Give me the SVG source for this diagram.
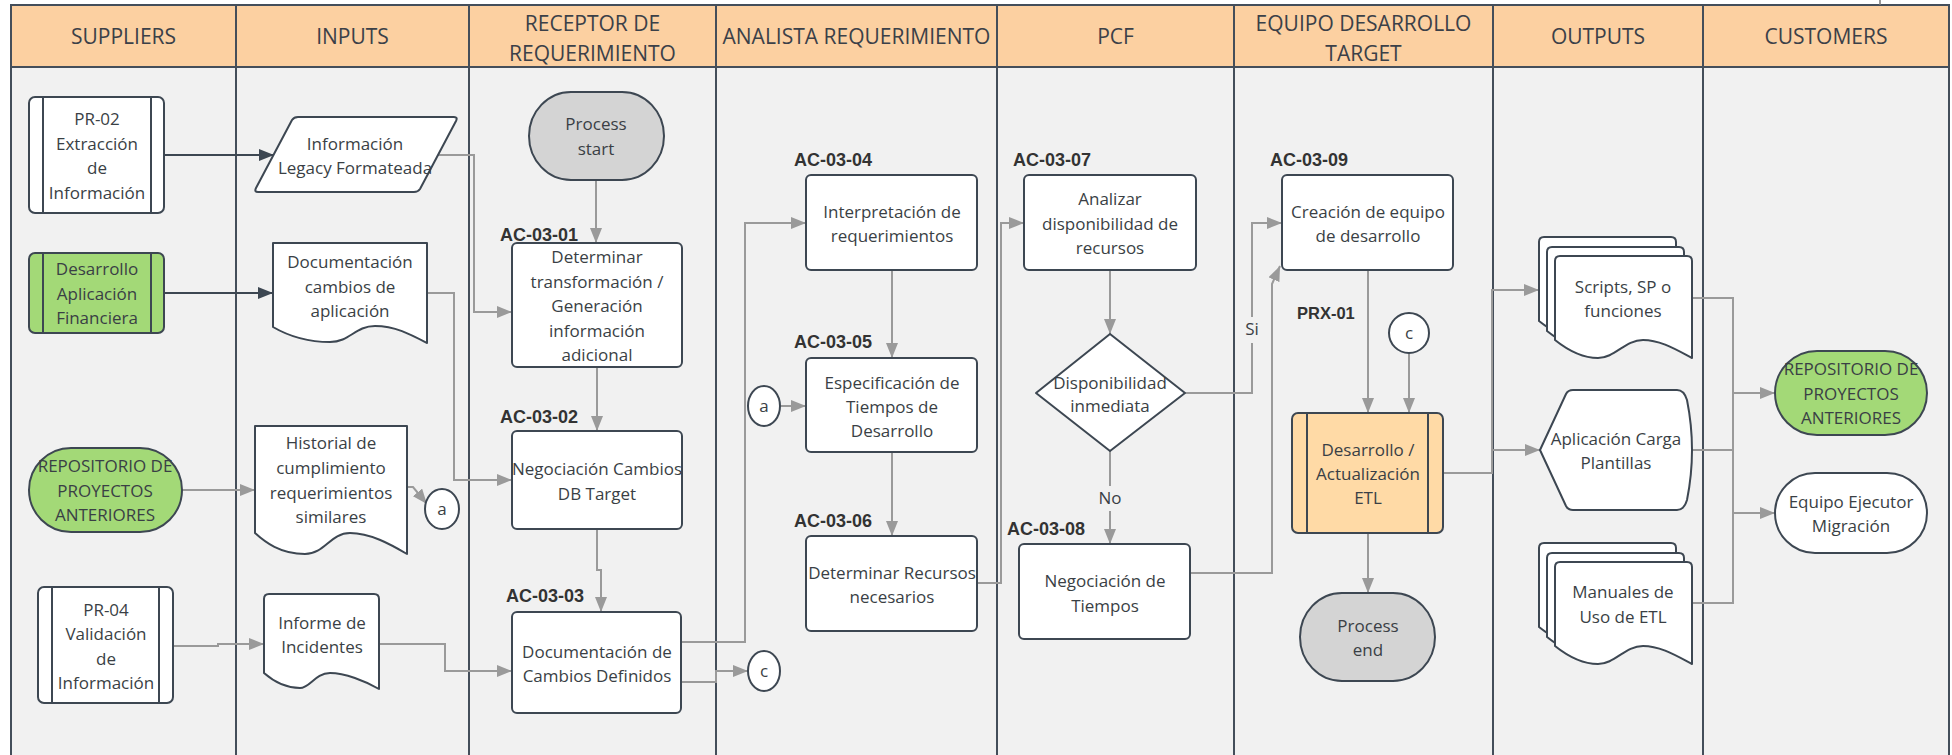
<svg xmlns="http://www.w3.org/2000/svg" width="1952" height="755" viewBox="0 0 1952 755">
<style>
.lh{fill:#FCD0A1;stroke:#444e5a;stroke-width:2}
.lb{fill:#F1F1F1;stroke:#444e5a;stroke-width:2}
.hdr{font-family:"Open Sans",sans-serif;font-size:21px;fill:#3b4048;text-anchor:middle}
.n{fill:#fff;stroke:#3d4752;stroke-width:2;stroke-linejoin:round}
.g{fill:#A3D977}
.gr{fill:#D4D4D4}
.o{fill:#FFDAA6}
.t{font-family:"Open Sans",sans-serif;font-size:17px;fill:#3a3f45;text-anchor:middle}
.lbl{font-family:"Liberation Sans",Arial,sans-serif;font-weight:bold;font-size:18px;fill:#333}
.c{fill:none;stroke:#9a9a9a;stroke-width:2}
.cd{fill:none;stroke:#3d4752;stroke-width:2}
.bg{fill:#F1F1F1}
</style>
<defs>
<marker id="ag" markerUnits="userSpaceOnUse" markerWidth="16" markerHeight="12" refX="15" refY="6" orient="auto"><path d="M0,0 L15,6 L0,12 z" fill="#9a9a9a"/></marker>
<marker id="ad" markerUnits="userSpaceOnUse" markerWidth="16" markerHeight="12" refX="15" refY="6" orient="auto"><path d="M0,0 L15,6 L0,12 z" fill="#3d4752"/></marker>
<path id="sd" d="M0,84 V5 Q0,0 5,0 H132 Q137,0 137,5 V102 C120,93 105,84 88,84 C70,84 60,102 43,102 C25,102 10,92 0,84 Z"/>
</defs>

<g id="lanes">
<rect class="lb" x="11" y="67" width="225" height="700"/>
<rect class="lb" x="236" y="67" width="233" height="700"/>
<rect class="lb" x="469" y="67" width="247" height="700"/>
<rect class="lb" x="716" y="67" width="281" height="700"/>
<rect class="lb" x="997" y="67" width="237" height="700"/>
<rect class="lb" x="1234" y="67" width="259" height="700"/>
<rect class="lb" x="1493" y="67" width="210" height="700"/>
<rect class="lb" x="1703" y="67" width="246" height="700"/>
<rect class="lh" x="11" y="5" width="225" height="62"/>
<rect class="lh" x="236" y="5" width="233" height="62"/>
<rect class="lh" x="469" y="5" width="247" height="62"/>
<rect class="lh" x="716" y="5" width="281" height="62"/>
<rect class="lh" x="997" y="5" width="237" height="62"/>
<rect class="lh" x="1234" y="5" width="259" height="62"/>
<rect class="lh" x="1493" y="5" width="210" height="62"/>
<rect class="lh" x="1703" y="5" width="246" height="62"/>
<path d="M1880,0 V5" stroke="#777" stroke-width="1.5"/>
<text class="hdr" x="123.5" y="44">SUPPLIERS</text>
<text class="hdr" x="352.5" y="44">INPUTS</text>
<text class="hdr" x="592.5" y="31">RECEPTOR DE</text>
<text class="hdr" x="592.5" y="61">REQUERIMIENTO</text>
<text class="hdr" x="856.5" y="44">ANALISTA REQUERIMIENTO</text>
<text class="hdr" x="1115.5" y="44">PCF</text>
<text class="hdr" x="1363.5" y="31">EQUIPO DESARROLLO</text>
<text class="hdr" x="1363.5" y="61">TARGET</text>
<text class="hdr" x="1598" y="44">OUTPUTS</text>
<text class="hdr" x="1826" y="44">CUSTOMERS</text>
</g>

<g id="connectors">
<path class="cd" d="M164,155 H274" marker-end="url(#ad)"/>
<path class="cd" d="M164,293 H273" marker-end="url(#ad)"/>
<path class="c" d="M182,490 H255" marker-end="url(#ag)"/>
<path class="c" d="M173,646 H218 V644 H264" marker-end="url(#ag)"/>
<path class="c" d="M437,155 H474 V312 H512" marker-end="url(#ag)"/>
<path class="c" d="M427,293 H454 V480 H512" marker-end="url(#ag)"/>
<path class="c" d="M407,487 H413 L427,504" marker-end="url(#ag)"/>
<path class="c" d="M379,644 H445 V671 H512" marker-end="url(#ag)"/>
<path class="c" d="M596,180 V243" marker-end="url(#ag)"/>
<path class="c" d="M597,367 V431" marker-end="url(#ag)"/>
<path class="c" d="M597,529 V570 H601 V612" marker-end="url(#ag)"/>
<path class="c" d="M681,642 H745 V223 H806" marker-end="url(#ag)"/>
<path class="c" d="M681,682 H716 V671 H748" marker-end="url(#ag)"/>
<path class="c" d="M781,406 H806" marker-end="url(#ag)"/>
<path class="c" d="M892,270 V358" marker-end="url(#ag)"/>
<path class="c" d="M892,452 V536" marker-end="url(#ag)"/>
<path class="c" d="M977,583 H1001 V223 H1024" marker-end="url(#ag)"/>
<path class="c" d="M1110,270 V334" marker-end="url(#ag)"/>
<path class="c" d="M1185,393 H1252 V223 H1282" marker-end="url(#ag)"/>
<path class="c" d="M1110,451 V544" marker-end="url(#ag)"/>
<path class="c" d="M1190,573 H1272 V284 L1280,266" marker-end="url(#ag)"/>
<path class="c" d="M1368,270 V413" marker-end="url(#ag)"/>
<path class="c" d="M1409,353 V413" marker-end="url(#ag)"/>
<path class="c" d="M1368,533 V593" marker-end="url(#ag)"/>
<path class="c" d="M1443,473 H1492 V290 H1539" marker-end="url(#ag)"/>
<path class="c" d="M1492,450 H1540" marker-end="url(#ag)"/>
<path class="c" d="M1692,298 H1733 V603 H1692"/>
<path class="c" d="M1692,450 H1733"/>
<path class="c" d="M1733,393 H1775" marker-end="url(#ag)"/>
<path class="c" d="M1733,513 H1775" marker-end="url(#ag)"/>
<rect class="bg" x="1243" y="317" width="18" height="26"/>
<text class="t" x="1252" y="335">Si</text>
<rect class="bg" x="1096" y="486" width="28" height="25"/>
<text class="t" x="1110" y="504">No</text>
</g>

<g id="pr02">
<rect class="n" x="29" y="97" width="135" height="116" rx="6"/>
<path class="n" d="M43,97 V213 M151,97 V213"/>
<text class="t" x="97"><tspan x="97" y="125">PR-02</tspan><tspan x="97" y="150">Extracción</tspan><tspan x="97" y="174">de</tspan><tspan x="97" y="199">Información</tspan></text>
</g>
<g id="desarrollo-app">
<rect class="n g" x="29" y="253" width="135" height="80" rx="6"/>
<path class="n" d="M43,253 V333 M151,253 V333"/>
<text class="t" x="97"><tspan x="97" y="275">Desarrollo</tspan><tspan x="97" y="300">Aplicación</tspan><tspan x="97" y="324">Financiera</tspan></text>
</g>
<g id="repositorio-sup">
<rect class="n g" x="29" y="448" width="153" height="84" rx="42"/>
<text class="t" x="105"><tspan x="105" y="472">REPOSITORIO DE</tspan><tspan x="105" y="497">PROYECTOS</tspan><tspan x="105" y="521">ANTERIORES</tspan></text>
</g>
<g id="pr04">
<rect class="n" x="38" y="587" width="135" height="116" rx="6"/>
<path class="n" d="M52,587 V703 M159,587 V703"/>
<text class="t" x="106"><tspan x="106" y="616">PR-04</tspan><tspan x="106" y="640">Validación</tspan><tspan x="106" y="665">de</tspan><tspan x="106" y="689">Información</tspan></text>
</g>

<g id="info-legacy">
<path class="n" d="M298,117 H454 Q458,117 456,121 L420,189 Q418,192 414,192 H258 Q254,192 256,188 L292,120 Q294,117 298,117 Z"/>
<text class="t" x="355"><tspan x="355" y="150">Información</tspan><tspan x="355" y="174">Legacy Formateada</tspan></text>
</g>
<g id="doc-cambios">
<path class="n" d="M273,243 H427 V343 C410,334 395,326 375,326 C355,326 350,342 330,342 C305,342 285,334 273,327 Z"/>
<text class="t" x="350"><tspan x="350" y="268">Documentación</tspan><tspan x="350" y="293">cambios de</tspan><tspan x="350" y="317">aplicación</tspan></text>
</g>
<g id="historial">
<path class="n" d="M255,426 H407 V554 C390,544 370,533 350,533 C330,533 325,554 305,554 C280,554 265,542 255,533 Z"/>
<text class="t" x="331"><tspan x="331" y="449">Historial de</tspan><tspan x="331" y="474">cumplimiento</tspan><tspan x="331" y="499">requerimientos</tspan><tspan x="331" y="523">similares</tspan></text>
</g>
<g id="con-a1">
<ellipse class="n" cx="442" cy="509" rx="17" ry="20"/>
<text class="t" x="442" y="515">a</text>
</g>
<g id="informe">
<path class="n" d="M264,673 V599 Q264,594 269,594 H374 Q379,594 379,599 V689 C365,681 345,673 330,673 C315,673 310,688 300,688 C285,688 272,680 264,673 Z"/>
<text class="t" x="322"><tspan x="322" y="629">Informe de</tspan><tspan x="322" y="653">Incidentes</tspan></text>
</g>

<g id="process-start">
<rect class="n gr" x="529" y="92" width="135" height="88" rx="42" ry="44"/>
<text class="t" x="596"><tspan x="596" y="130">Process</tspan><tspan x="596" y="155">start</tspan></text>
</g>
<g id="ac-03-01">
<text class="lbl" x="500" y="241">AC-03-01</text>
<rect class="n" x="512" y="243" width="170" height="124" rx="5"/>
<text class="t" x="597"><tspan x="597" y="263">Determinar</tspan><tspan x="597" y="288">transformación /</tspan><tspan x="597" y="312">Generación</tspan><tspan x="597" y="337">información</tspan><tspan x="597" y="361">adicional</tspan></text>
</g>
<g id="ac-03-02">
<text class="lbl" x="500" y="423">AC-03-02</text>
<rect class="n" x="512" y="431" width="170" height="98" rx="5"/>
<text class="t" x="597"><tspan x="597" y="475">Negociación Cambios</tspan><tspan x="597" y="500">DB Target</tspan></text>
</g>
<g id="ac-03-03">
<text class="lbl" x="506" y="602">AC-03-03</text>
<rect class="n" x="512" y="612" width="169" height="101" rx="5"/>
<text class="t" x="597"><tspan x="597" y="658">Documentación de</tspan><tspan x="597" y="682">Cambios Definidos</tspan></text>
</g>
<g id="con-c1">
<ellipse class="n" cx="764" cy="671" rx="16" ry="20"/>
<text class="t" x="764" y="677">c</text>
</g>

<g id="ac-03-04">
<text class="lbl" x="794" y="166">AC-03-04</text>
<rect class="n" x="806" y="175" width="171" height="95" rx="5"/>
<text class="t" x="892"><tspan x="892" y="218">Interpretación de</tspan><tspan x="892" y="242">requerimientos</tspan></text>
</g>
<g id="con-a2">
<ellipse class="n" cx="764" cy="406" rx="16" ry="20"/>
<text class="t" x="764" y="412">a</text>
</g>
<g id="ac-03-05">
<text class="lbl" x="794" y="348">AC-03-05</text>
<rect class="n" x="806" y="358" width="171" height="94" rx="5"/>
<text class="t" x="892"><tspan x="892" y="389">Especificación de</tspan><tspan x="892" y="413">Tiempos de</tspan><tspan x="892" y="437">Desarrollo</tspan></text>
</g>
<g id="ac-03-06">
<text class="lbl" x="794" y="527">AC-03-06</text>
<rect class="n" x="806" y="536" width="171" height="95" rx="5"/>
<text class="t" x="892"><tspan x="892" y="579">Determinar Recursos</tspan><tspan x="892" y="603">necesarios</tspan></text>
</g>

<g id="ac-03-07">
<text class="lbl" x="1013" y="166">AC-03-07</text>
<rect class="n" x="1024" y="175" width="172" height="95" rx="5"/>
<text class="t" x="1110"><tspan x="1110" y="205">Analizar</tspan><tspan x="1110" y="230">disponibilidad de</tspan><tspan x="1110" y="254">recursos</tspan></text>
</g>
<g id="decision">
<path class="n" d="M1110,334 L1185,393 L1110,451 L1036,393 Z"/>
<text class="t" x="1110"><tspan x="1110" y="389">Disponibilidad</tspan><tspan x="1110" y="412">inmediata</tspan></text>
</g>
<g id="ac-03-08">
<text class="lbl" x="1007" y="535">AC-03-08</text>
<rect class="n" x="1019" y="544" width="171" height="95" rx="5"/>
<text class="t" x="1105"><tspan x="1105" y="587">Negociación de</tspan><tspan x="1105" y="612">Tiempos</tspan></text>
</g>

<g id="ac-03-09">
<text class="lbl" x="1270" y="166">AC-03-09</text>
<rect class="n" x="1282" y="175" width="171" height="95" rx="5"/>
<text class="t" x="1368"><tspan x="1368" y="218">Creación de equipo</tspan><tspan x="1368" y="242">de desarrollo</tspan></text>
</g>
<g id="con-c2">
<circle class="n" cx="1409" cy="333" r="20"/>
<text class="t" x="1409" y="339">c</text>
</g>
<g id="prx-01">
<text class="lbl" x="1297" y="319" style="font-size:16.5px">PRX-01</text>
<rect class="n o" x="1292" y="413" width="151" height="120" rx="6"/>
<path class="n" d="M1307,413 V533 M1428,413 V533"/>
<text class="t" x="1368"><tspan x="1368" y="456">Desarrollo /</tspan><tspan x="1368" y="480">Actualización</tspan><tspan x="1368" y="504">ETL</tspan></text>
</g>
<g id="process-end">
<rect class="n gr" x="1300" y="593" width="135" height="88" rx="42" ry="44"/>
<text class="t" x="1368"><tspan x="1368" y="632">Process</tspan><tspan x="1368" y="656">end</tspan></text>
</g>

<g id="scripts">
<use href="#sd" class="n" x="1539" y="237"/>
<use href="#sd" class="n" x="1547" y="247"/>
<use href="#sd" class="n" x="1555" y="256"/>
<text class="t" x="1623"><tspan x="1623" y="293">Scripts, SP o</tspan><tspan x="1623" y="317">funciones</tspan></text>
</g>
<g id="aplicacion-carga">
<path class="n" d="M1540,450 L1566,394 Q1568,390 1573,390 H1677 Q1684,390 1687,400 Q1697,450 1687,500 Q1684,510 1677,510 H1573 Q1568,510 1566,506 Z"/>
<text class="t" x="1616"><tspan x="1616" y="445">Aplicación Carga</tspan><tspan x="1616" y="469">Plantillas</tspan></text>
</g>
<g id="manuales">
<use href="#sd" class="n" x="1539" y="543"/>
<use href="#sd" class="n" x="1547" y="553"/>
<use href="#sd" class="n" x="1555" y="562"/>
<text class="t" x="1623"><tspan x="1623" y="598">Manuales de</tspan><tspan x="1623" y="623">Uso de ETL</tspan></text>
</g>

<g id="repositorio-cust">
<rect class="n g" x="1775" y="351" width="152" height="84" rx="42"/>
<text class="t" x="1851"><tspan x="1851" y="375">REPOSITORIO DE</tspan><tspan x="1851" y="400">PROYECTOS</tspan><tspan x="1851" y="424">ANTERIORES</tspan></text>
</g>
<g id="equipo-ejecutor">
<rect class="n" x="1775" y="473" width="152" height="80" rx="40"/>
<text class="t" x="1851"><tspan x="1851" y="508">Equipo Ejecutor</tspan><tspan x="1851" y="532">Migración</tspan></text>
</g>
</svg>
